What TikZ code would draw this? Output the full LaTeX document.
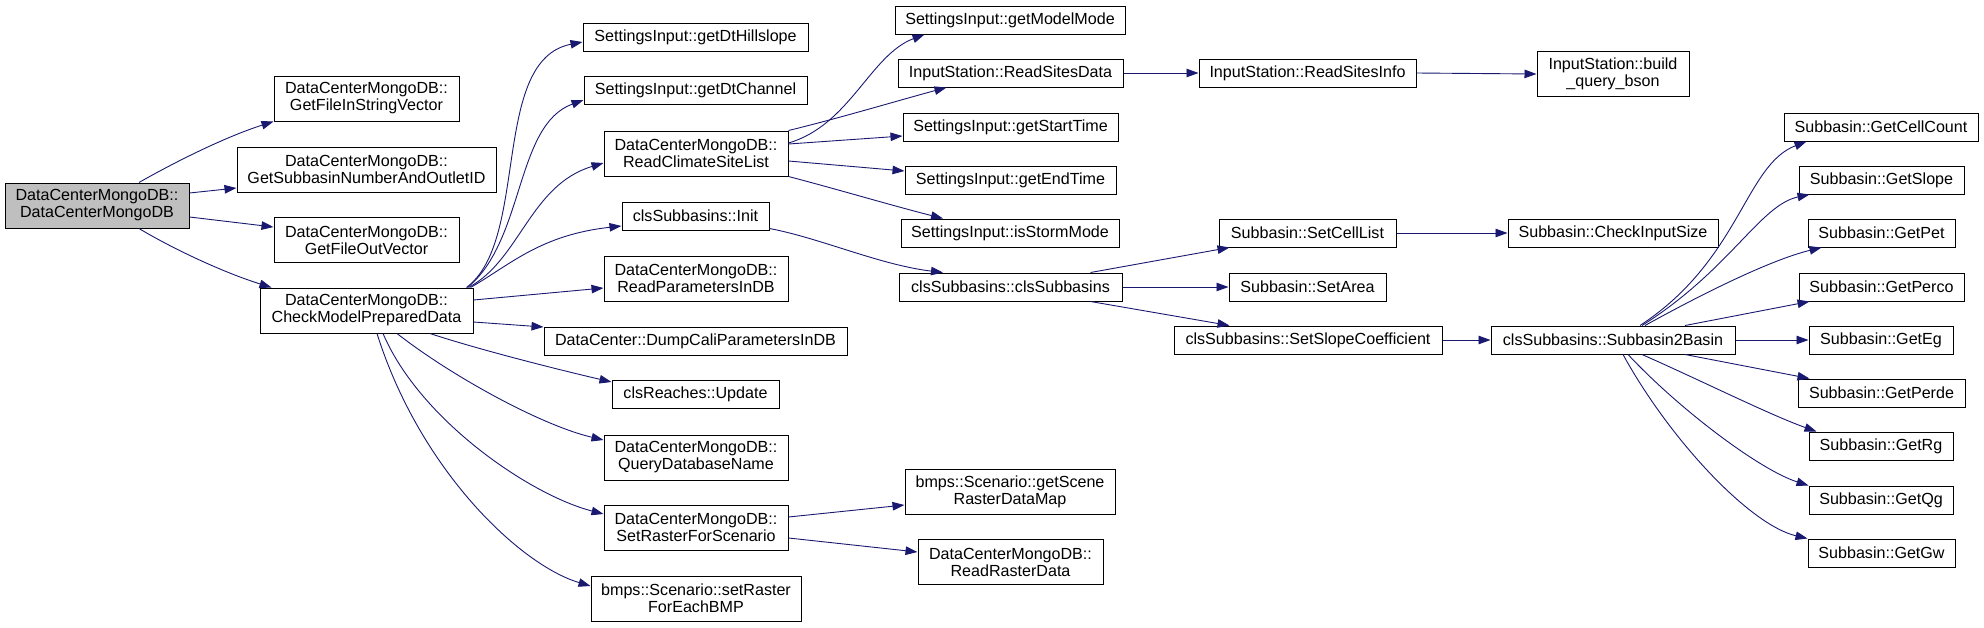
\documentclass[tikz,border=0pt]{standalone}
\usepackage{fontspec}
\setmainfont{Liberation Sans}
\usepackage{tikz}
\usetikzlibrary{arrows.meta}

\definecolor{edgeblue}{HTML}{191970}
\definecolor{rootgray}{HTML}{BFBFBF}

\begin{document}
\begin{tikzpicture}[x=1pt, y=-1pt,
  fn/.style={draw=black, line width=1pt, inner sep=0pt, minimum height=28pt,
    align=center, font=\fontsize{16.1pt}{17pt}\selectfont},
  fn2/.style={fn, minimum height=45pt},
  call/.style={draw=edgeblue, line width=0.9pt, -{Triangle[length=12pt,width=8.5pt]}}
]
\useasboundingbox (0,0) rectangle (1984,627);

% Starting function
\node[fn2, fill=rootgray, minimum width=184pt] (root) at (97,205.5) {DataCenterMongoDB::\\DataCenterMongoDB};

% First level
\node[fn2, minimum width=185pt] (gfisv) at (366.5,98.5) {DataCenterMongoDB::\\GetFileInStringVector};
\node[fn2, minimum width=259pt] (gsnao) at (366.5,169.5) {DataCenterMongoDB::\\GetSubbasinNumberAndOutletID};
\node[fn2, minimum width=185pt] (gfov) at (366.5,240) {DataCenterMongoDB::\\GetFileOutVector};
\node[fn2, minimum width=213pt] (cmpd) at (366.5,310.5) {DataCenterMongoDB::\\CheckModelPreparedData};

% Second level
\node[fn, minimum width=225pt] (dthill) at (695.5,37) {SettingsInput::getDtHillslope};
\node[fn, minimum width=223pt] (dtchan) at (695.5,90.5) {SettingsInput::getDtChannel};
\node[fn2, minimum width=184pt] (rcsl) at (696,153.5) {DataCenterMongoDB::\\ReadClimateSiteList};
\node[fn, minimum width=147pt] (init) at (695.5,216) {clsSubbasins::Init};
\node[fn2, minimum width=184pt] (rpdb) at (696,278.5) {DataCenterMongoDB::\\ReadParametersInDB};
\node[fn, minimum width=303pt] (dump) at (695.5,341) {DataCenter::DumpCaliParametersInDB};
\node[fn, minimum width=167pt] (upd) at (695.5,394) {clsReaches::Update};
\node[fn2, minimum width=184pt] (qdbn) at (696,457.5) {DataCenterMongoDB::\\QueryDatabaseName};
\node[fn2, minimum width=184pt] (srfs) at (696,527.5) {DataCenterMongoDB::\\SetRasterForScenario};
\node[fn2, minimum width=210pt] (srbmp) at (696,598.5) {bmps::Scenario::setRaster\\ForEachBMP};

% Third level
\node[fn, minimum width=230pt] (gmm) at (1010,20) {SettingsInput::getModelMode};
\node[fn, minimum width=225pt] (rsd) at (1010.5,73) {InputStation::ReadSitesData};
\node[fn, minimum width=215pt] (gst) at (1010.5,127) {SettingsInput::getStartTime};
\node[fn, minimum width=211pt] (get) at (1010.5,180) {SettingsInput::getEndTime};
\node[fn, minimum width=218pt] (ism) at (1010,233) {SettingsInput::isStormMode};
\node[fn, minimum width=223pt] (csub) at (1010.5,287) {clsSubbasins::clsSubbasins};
\node[fn2, minimum width=210pt] (gsrdm) at (1010,491.5) {bmps::Scenario::getScene\\RasterDataMap};
\node[fn2, minimum width=185pt] (rrd) at (1010.5,562) {DataCenterMongoDB::\\ReadRasterData};

% Fourth level
\node[fn, minimum width=217pt] (rsi) at (1307.5,73) {InputStation::ReadSitesInfo};
\node[fn, minimum width=177pt] (scl) at (1307.5,233) {Subbasin::SetCellList};
\node[fn, minimum width=157pt] (sar) at (1307.5,287) {Subbasin::SetArea};
\node[fn, minimum width=268pt] (ssc) at (1308,340) {clsSubbasins::SetSlopeCoefficient};

% Fifth level
\node[fn2, minimum width=152pt] (bqb) at (1613,73.5) {InputStation::build\\\_query\_bson};
\node[fn, minimum width=210pt] (cis) at (1613,233) {Subbasin::CheckInputSize};
\node[fn, minimum width=244pt] (s2b) at (1613,340) {clsSubbasins::Subbasin2Basin};

% Getters of Subbasin
\node[fn, minimum width=194pt] (gcc) at (1881,127) {Subbasin::GetCellCount};
\node[fn, minimum width=165pt] (gsl) at (1881.5,180) {Subbasin::GetSlope};
\node[fn, minimum width=147pt] (gpet) at (1881.5,233) {Subbasin::GetPet};
\node[fn, minimum width=165pt] (gperco) at (1881.5,287) {Subbasin::GetPerco};
\node[fn, minimum width=144pt] (geg) at (1881,340) {Subbasin::GetEg};
\node[fn, minimum width=167pt] (gperde) at (1881.5,393) {Subbasin::GetPerde};
\node[fn, minimum width=144pt] (grg) at (1881,446) {Subbasin::GetRg};
\node[fn, minimum width=144pt] (gqg) at (1881,500) {Subbasin::GetQg};
\node[fn, minimum width=147pt] (ggw) at (1881.5,553) {Subbasin::GetGw};

% Calls of the constructor
\draw[call] ([xshift=42pt]root.north) .. controls (175,162) and (225,137) .. (gfisv.south west);
\draw[call] ([yshift=12.5pt]root.east) -- ([yshift=-18.5pt]gsnao.west);
\draw[call] ([yshift=-11.5pt]root.east) -- ([yshift=13pt]gfov.west);
\draw[call] ([xshift=42pt]root.south) .. controls (175,250) and (225,273) .. ([xshift=-95pt]cmpd.north);

% Calls of CheckModelPreparedData
\draw[call] ([xshift=100pt]cmpd.north) .. controls (530,240) and (490,60) .. ([yshift=-5pt]dthill.west);
\draw[call] ([xshift=101pt]cmpd.north) .. controls (525,240) and (515,125) .. ([yshift=-9.5pt]dtchan.west);
\draw[call] ([xshift=102pt]cmpd.north) .. controls (520,260) and (530,185) .. ([yshift=-9.5pt]rcsl.west);
\draw[call] ([xshift=104pt]cmpd.north) .. controls (510,265) and (540,235) .. ([yshift=-10pt]init.west);
\draw[call] ([yshift=10.5pt]cmpd.east) -- ([yshift=-9.5pt]rpdb.west);
\draw[call] ([yshift=-11.5pt]cmpd.east) -- ([yshift=14pt]dump.west);
\draw[call] ([xshift=63.5pt]cmpd.south) .. controls (480,350) and (560,370) .. ([yshift=12pt]upd.west);
\draw[call] ([xshift=30.5pt]cmpd.south) .. controls (450,375) and (540,425) .. ([yshift=17.5pt]qdbn.west);
\draw[call] ([xshift=16.5pt]cmpd.south) .. controls (420,420) and (530,495) .. ([yshift=13.5pt]srfs.west);
\draw[call] ([xshift=10.5pt]cmpd.south) .. controls (420,470) and (520,565) .. ([yshift=12.5pt]srbmp.west);

% Calls of ReadClimateSiteList
\draw[call] ([yshift=10.5pt]rcsl.east) .. controls (850,125) and (870,55) .. ([xshift=30pt]gmm.south west);
\draw[call] (rcsl.north east) .. controls (840,118) and (900,100) .. ([xshift=49pt]rsd.south west);
\draw[call] ([yshift=9.5pt]rcsl.east) -- ([yshift=-9pt]gst.west);
\draw[call] ([yshift=-7.5pt]rcsl.east) -- ([yshift=9pt]get.west);
\draw[call] (rcsl.south east) .. controls (840,190) and (890,205) .. ([xshift=-67pt]ism.north);

% Init and site data
\draw[call] ([yshift=2pt]init.south east) .. controls (820,238) and (880,265) .. ([xshift=-67.5pt]csub.north);
\draw[call] (rsd) -- (rsi);
\draw[call] (rsi.east) -- ([yshift=-0.5pt]bqb.west);

% Calls of clsSubbasins
\draw[call] ([xshift=-32pt]csub.north east) -- ([xshift=11pt]scl.south west);
\draw[call] (csub) -- (sar);
\draw[call] ([xshift=-32pt]csub.south east) -- ([xshift=56pt]ssc.north west);
\draw[call] (scl) -- (cis);
\draw[call] (ssc) -- (s2b);

% Calls of Subbasin2Basin
\draw[call] ([xshift=27pt]s2b.north) .. controls (1740,260) and (1745,165) .. ([xshift=23pt]gcc.south west);
\draw[call] ([xshift=29pt]s2b.north) .. controls (1730,270) and (1760,205) .. ([xshift=11pt]gsl.south west);
\draw[call] ([xshift=32pt]s2b.north) .. controls (1700,295) and (1770,260) .. ([xshift=14pt]gpet.south west);
\draw[call] ([xshift=72pt]s2b.north) -- ([xshift=11pt]gperco.south west);
\draw[call] (s2b) -- (geg);
\draw[call] ([xshift=72pt]s2b.south) -- ([xshift=12pt]gperde.north west);
\draw[call] ([xshift=29pt]s2b.south) .. controls (1700,380) and (1770,415) .. ([xshift=8pt]grg.north west);
\draw[call] ([xshift=15pt]s2b.south) .. controls (1680,410) and (1760,470) .. (gqg.north west);
\draw[call] ([xshift=10pt]s2b.south) .. controls (1670,440) and (1750,525) .. (ggw.north west);

% Calls of SetRasterForScenario
\draw[call] ([yshift=10.5pt]srfs.east) -- ([yshift=-13.5pt]gsrdm.west);
\draw[call] ([yshift=-10.5pt]srfs.east) -- ([yshift=10pt]rrd.west);

\end{tikzpicture}
\end{document}
